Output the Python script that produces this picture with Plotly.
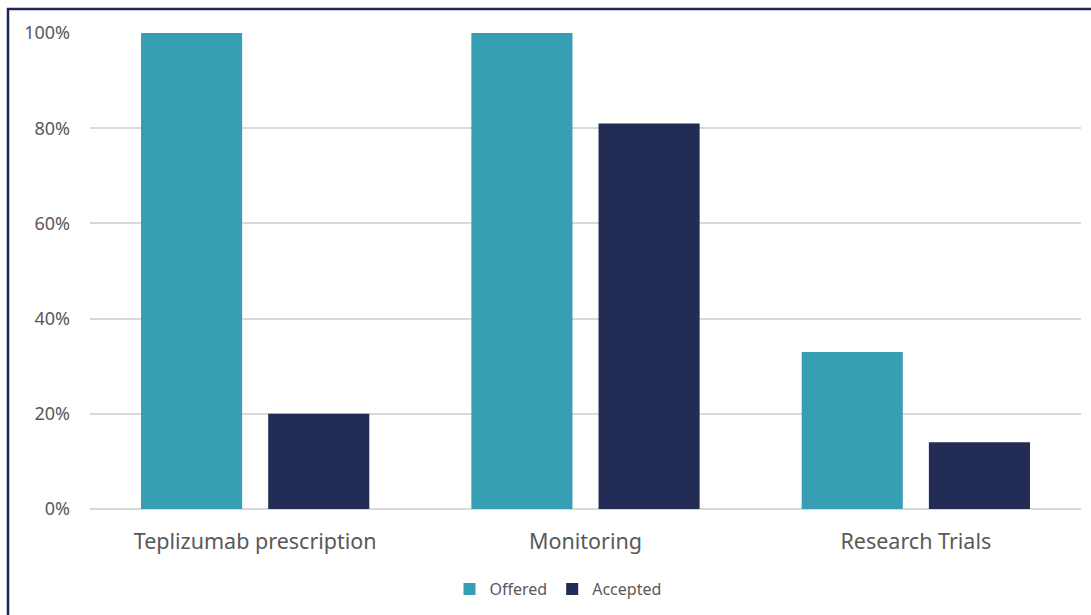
import plotly.graph_objects as go

categories = ["Teplizumab prescription", "Monitoring", "Research Trials"]
offered = [100, 100, 33]
accepted = [20, 81, 14]
y_ticks = [0, 20, 40, 60, 80, 100]
y_tick_labels = ["0%", "20%", "40%", "60%", "80%", "100%"]

fig = go.Figure()
fig.add_trace(go.Bar(x=categories, y=offered, name="Offered", marker_color="#369FB3",
                     marker_line_width=0))
fig.add_trace(go.Bar(x=categories, y=accepted, name="Accepted", marker_color="#222C55",
                     marker_line_width=0))

W, H = 1091, 615
L, R, T, B = 90, 10, 33, 105
pw, ph = W - L - R, H - T - B

def px(x):
    return (x - L) / pw

def py(y):
    return (H - B - y) / ph

frame = "#1F2755"
fig.add_shape(type="line", xref="paper", yref="paper",
              x0=px(8), x1=px(8), y0=py(H + 5), y1=py(8.5),
              line=dict(color=frame, width=2.5))
fig.add_shape(type="line", xref="paper", yref="paper",
              x0=px(7), x1=px(W + 5), y0=py(9), y1=py(9),
              line=dict(color=frame, width=2.5))

fig.update_layout(
    width=W, height=H,
    margin=dict(l=L, r=R, t=T, b=B),
    paper_bgcolor="white", plot_bgcolor="white",
    barmode="group", bargap=0.23, bargroupgap=0.205,
    font=dict(family="Noto Sans, sans-serif", color="#595959"),
    showlegend=True,
    legend=dict(orientation="h", x=px(558), xanchor="center", y=py(589), yanchor="middle",
                font=dict(size=16, color="#595959"), itemwidth=30,
                itemsizing="constant"),
)
fig.update_xaxes(showgrid=False, showline=False, zeroline=False,
                 tickfont=dict(size=21.5, color="#595959"), ticks="",
                 ticklabelstandoff=17)
fig.update_yaxes(range=[0, 100], tickvals=y_ticks, ticktext=y_tick_labels,
                 showgrid=True, gridcolor="#D9D9D9", gridwidth=1.5,
                 zeroline=True, zerolinecolor="#D9D9D9", zerolinewidth=1.5,
                 showline=False, ticks="",
                 tickfont=dict(size=18, color="#595959"), ticklabelstandoff=19)

fig.write_html("out.html")
